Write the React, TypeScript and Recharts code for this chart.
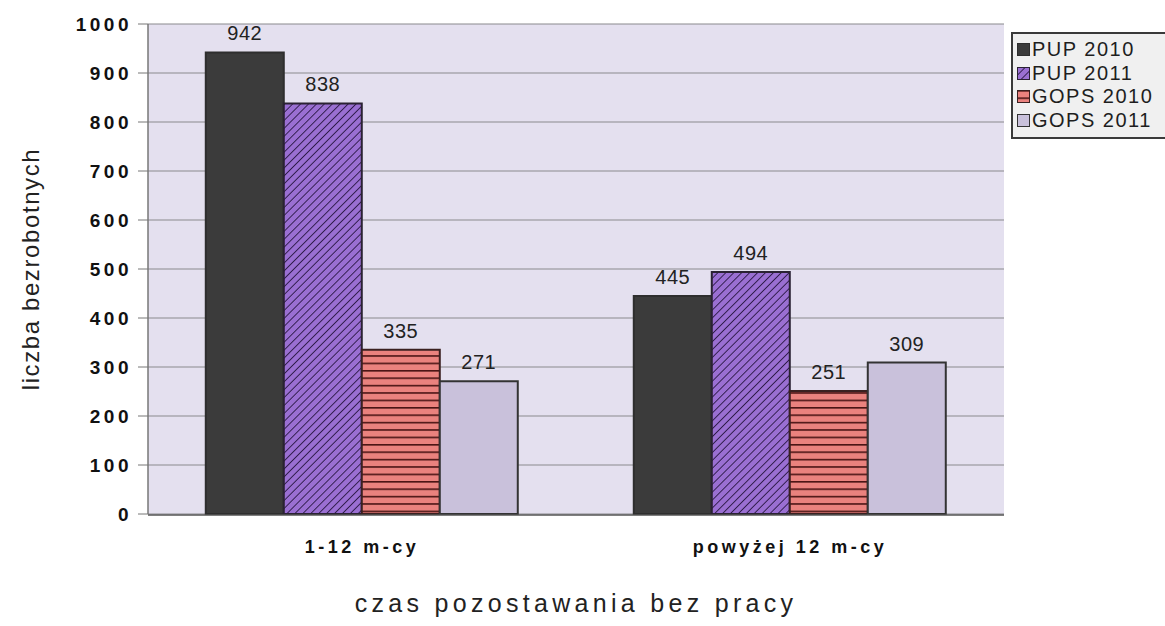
import { BarChart, Bar, XAxis, YAxis, CartesianGrid, LabelList } from 'recharts';

// kategorie i wartości
const categories = ['1-12 m-cy', 'powyżej 12 m-cy'];
const pup2010 = [942, 445];
const pup2011 = [838, 494];
const gops2010 = [335, 251];
const gops2011 = [271, 309];
const seriesNames = ['PUP 2010', 'PUP 2011', 'GOPS 2010', 'GOPS 2011'];
const yTicks = [0, 100, 200, 300, 400, 500, 600, 700, 800, 900, 1000];
const edgeTicks = [0, 1, 2];

const data = categories.map((name, i) => ({
  name,
  pup2010: pup2010[i],
  pup2011: pup2011[i],
  gops2010: gops2010[i],
  gops2011: gops2011[i],
}));

const series = [
  { key: 'pup2010', name: seriesNames[0], fill: '#3b3b3b', stroke: '#2e2e2e' },
  { key: 'pup2011', name: seriesNames[1], fill: 'url(#hatchDiag)', stroke: '#2a2233' },
  { key: 'gops2010', name: seriesNames[2], fill: 'url(#hatchHoriz)', stroke: '#3a2020' },
  { key: 'gops2011', name: seriesNames[3], fill: '#c9c1db', stroke: '#333333' },
];

const font = '"Liberation Sans", Arial, sans-serif';
const labelStyle = { fontFamily: font, fontSize: 20, fill: '#222', letterSpacing: 0.5 };

function ChartLegend() {
  return (
    <div
      style={{
        position: 'absolute',
        left: 1011,
        top: 32,
        width: 180,
        padding: '4px 0 5px 4px',
        border: '2px solid #3a3a3a',
        background: '#f0f0f0',
        fontFamily: font,
        fontSize: 20,
        letterSpacing: 1.5,
        color: '#1e1e1e',
        boxSizing: 'border-box',
      }}
    >
      {series.map((s) => (
        <div key={s.key} style={{ display: 'flex', alignItems: 'center', height: 23.5 }}>
          <svg width={13} height={13} style={{ marginRight: 2 }}>
            <rect x={0.5} y={0.5} width={12} height={12} fill={s.fill} stroke={s.stroke} />
          </svg>
          <span>{s.name}</span>
        </div>
      ))}
    </div>
  );
}

export default function App() {
  return (
    <div style={{ position: 'absolute', left: 0, top: 0, width: 1165, height: 626, background: '#fff', overflow: 'hidden' }}>
      <BarChart
        width={1165}
        height={626}
        data={data}
        margin={{ top: 24, right: 161, left: 0, bottom: 0 }}
        barCategoryGap="13.5%"
        barGap={0}
      >
        <defs>
          <pattern id="hatchDiag" width={5.6} height={5.6} patternUnits="userSpaceOnUse" patternTransform="rotate(45)">
            <rect width={5.6} height={5.6} fill="#9a6fd2" />
            <line x1={0} y1={0} x2={0} y2={5.6} stroke="#2a1845" strokeWidth={1.8} />
          </pattern>
          <pattern id="hatchHoriz" width={8} height={7.4} patternUnits="userSpaceOnUse">
            <rect width={8} height={7.4} fill="#ea827e" />
            <line x1={0} y1={0.8} x2={8} y2={0.8} stroke="#4a1414" strokeWidth={1.6} />
          </pattern>
        </defs>
        <CartesianGrid xAxisId={1} vertical={false} fill="#e4e0ef" stroke="#8a8a8e" strokeWidth={1.2} />
        {/* oś pomocnicza: znaczniki na granicach kategorii */}
        <XAxis
          xAxisId={0}
          type="number"
          domain={[0, 2]}
          ticks={edgeTicks}
          tick={false}
          tickSize={8}
          axisLine={false}
          tickLine={{ stroke: '#777', strokeWidth: 1.5 }}
          height={1}
        />
        <XAxis
          xAxisId={1}
          dataKey="name"
          height={111}
          tickLine={false}
          tickSize={0}
          tickMargin={25}
          axisLine={{ stroke: '#555', strokeWidth: 1.5 }}
          tick={{ fontFamily: font, fontWeight: 'bold', fontSize: 18, fill: '#111', letterSpacing: 3.5 }}
          label={{
            value: 'czas pozostawania bez pracy',
            position: 'insideBottom',
            offset: 14,
            style: { fontFamily: font, fontSize: 25, fill: '#222', letterSpacing: 4.3 },
          }}
        />
        <YAxis
          width={148}
          domain={[0, 1000]}
          ticks={yTicks}
          interval={0}
          tickSize={10}
          tickMargin={6}
          axisLine={{ stroke: '#777', strokeWidth: 1.5 }}
          tickLine={{ stroke: '#777' }}
          tick={{ fontFamily: font, fontWeight: 'bold', fontSize: 19, fill: '#111', letterSpacing: 3.5 }}
          label={{
            value: 'liczba bezrobotnych',
            angle: -90,
            position: 'insideLeft',
            offset: 30,
            style: { textAnchor: 'middle', fontFamily: font, fontSize: 24, fill: '#222', letterSpacing: 1.6 },
          }}
        />
        {series.map((s) => (
          <Bar key={s.key} xAxisId={1} dataKey={s.key} name={s.name} fill={s.fill} stroke={s.stroke} strokeWidth={2} isAnimationActive={false}>
            <LabelList dataKey={s.key} position="top" offset={12} style={labelStyle} />
          </Bar>
        ))}
      </BarChart>
      <ChartLegend />
    </div>
  );
}
